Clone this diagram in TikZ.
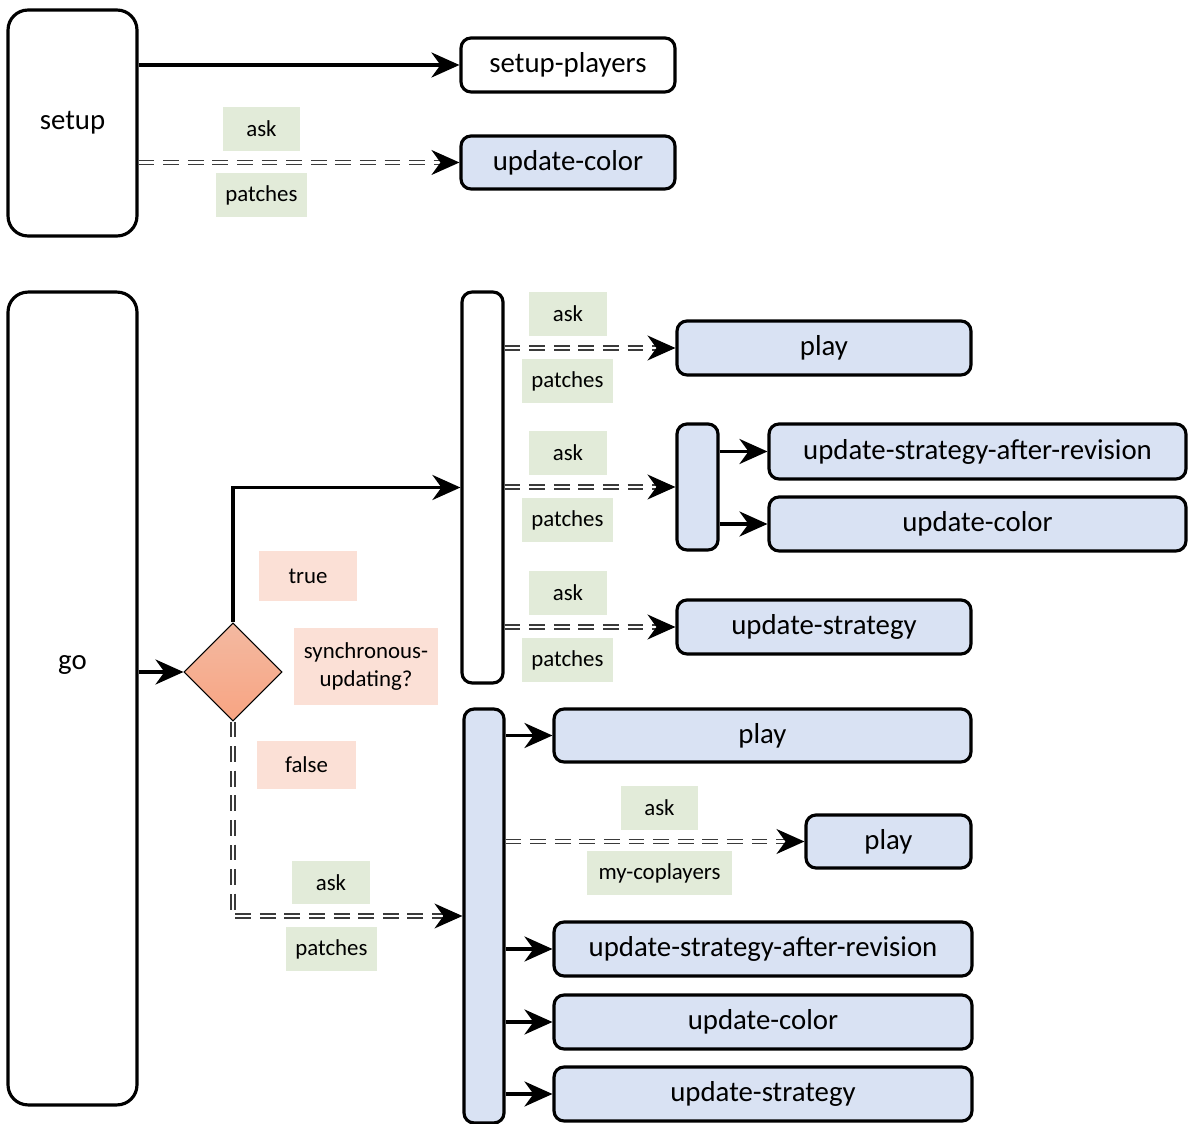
\documentclass[tikz,border=0pt]{standalone}
\usepackage{fontspec}
\setmainfont{Carlito}
\usetikzlibrary{arrows.meta,shapes.geometric}
\definecolor{bx}{HTML}{D9E2F3}
\definecolor{gt}{HTML}{E2EBD9}
\definecolor{pk}{HTML}{FBE0D6}
\definecolor{dtop}{HTML}{F3B9A1}
\definecolor{dbot}{HTML}{F8A482}
\definecolor{dl}{HTML}{3A3A3A}
\newcommand\boxfont{\fontsize{16.4}{19}\selectfont}
\newcommand\tagfont{\fontsize{13}{16}\selectfont}

\begin{document}
\begin{tikzpicture}[x=0.02cm,y=-0.02cm,
    big/.style={draw,line width=1.8pt,rounded corners=0.4cm,fill=white,minimum width=2.58cm,inner sep=0pt,font=\boxfont},
    box/.style={draw,line width=1.8pt,rounded corners=0.2cm,fill=bx,minimum height=1.08cm,inner sep=0pt,font=\boxfont},
    tag/.style={fill=gt,minimum height=0.88cm,inner sep=0pt,font=\tagfont},
    pinktag/.style={fill=pk,inner sep=0pt,font=\tagfont},
    dec/.style={diamond,draw,line width=0.6pt,top color=dtop,bottom color=dbot,minimum width=1.96cm,minimum height=1.96cm,inner sep=0pt},
    arr/.style={line width=2pt,-{Stealth[length=0.56cm,width=0.5cm,inset=0.18cm]}},
    dbl/.style={draw=dl,line width=0.85pt,double=white,double distance=1.4pt,dash pattern=on 9pt off 5pt,-{Stealth[length=0.56cm,width=0.5cm,inset=0.18cm,color=black,fill=black]}}]
  \useasboundingbox (0,0) rectangle (1194,1124);
  % setup
  \node[big,minimum height=4.52cm] (setup) at (72.5,123) {setup};
  \node[box,fill=white,minimum width=4.28cm] (players) at (568,65) {setup-players};
  \node[box,minimum width=4.28cm,minimum height=1.06cm] (ucol0) at (568,162.5) {update-color};
  \draw[arr] (setup.east |- players) -- (players);
  \draw[dbl] (setup.east |- ucol0) -- (ucol0);
  \node[tag,minimum width=1.54cm] (ask0) at (261.5,129) {ask};
  \node[tag,minimum width=1.82cm] (pat0) at (261.5,195.5) {patches};
  % go
  \node[big,minimum height=16.26cm,label={[font=\boxfont,yshift=0.67cm]center:go}] (go) at (72.5,698.5) {};
  \node[dec] (dec) at (233,672) {};
  \draw[arr] (go.east |- dec) -- (dec);
  \node[pinktag,minimum width=1.96cm,minimum height=1cm] (true) at (308,576) {true};
  \node[pinktag,minimum width=2.88cm,minimum height=1.54cm,align=center] (sync) at (366,666.5) {synchronous-\\updating?};
  \node[pinktag,minimum width=1.98cm,minimum height=0.96cm] (false) at (306.5,765) {false};
  \node[box,fill=white,minimum width=0.82cm,minimum height=7.82cm] (sbar) at (482.5,487.5) {};
  \node[box,minimum width=0.8cm,minimum height=8.28cm] (abar) at (484,916) {};
  \draw[arr] (dec.north) |- (sbar);
  \draw[dbl] (dec.south) |- (abar);
  \node[tag,minimum width=1.56cm] (ask4) at (331,882.5) {ask};
  \node[tag,minimum width=1.82cm] (pat4) at (331.5,949) {patches};
  % synchronous
  \node[box,minimum width=5.88cm] (play1) at (824,348) {play};
  \node[box,minimum width=0.82cm,minimum height=2.52cm] (mbar) at (697.5,487) {};
  \node[box,minimum width=8.34cm,minimum height=1.1cm] (usar1) at (977.5,451.5) {update-strategy-after-revision};
  \node[box,minimum width=8.34cm] (ucol1) at (977.5,524) {update-color};
  \node[box,minimum width=5.88cm] (ustr1) at (824,627) {update-strategy};
  \draw[dbl] (sbar.east |- play1) -- (play1);
  \draw[dbl] (sbar.east |- mbar) -- (mbar);
  \draw[dbl] (sbar.east |- ustr1) -- (ustr1);
  \draw[arr] (mbar.east |- usar1) -- (usar1);
  \draw[arr] (mbar.east |- ucol1) -- (ucol1);
  \foreach \i/\y in {1/348,2/487,3/627}{
    \node[tag,minimum width=1.56cm] (ask\i) at (568,\y-34) {ask};
    \node[tag,minimum width=1.82cm] (pat\i) at (567.5,\y+33) {patches};
  }
  % asynchronous
  \node[box,minimum width=8.34cm,minimum height=1.06cm] (play2) at (762.5,735.5) {play};
  \node[box,minimum width=3.3cm,minimum height=1.06cm] (play3) at (888.5,841.5) {play};
  \node[box,minimum width=8.36cm] (usar2) at (763,949) {update-strategy-after-revision};
  \node[box,minimum width=8.36cm] (ucol2) at (763,1022) {update-color};
  \node[box,minimum width=8.36cm] (ustr2) at (763,1094) {update-strategy};
  \foreach \n in {play2,usar2,ucol2,ustr2}
    \draw[arr] (abar.east |- \n) -- (\n);
  \draw[dbl] (abar.east |- play3) -- (play3);
  \node[tag,minimum width=1.54cm] (ask5) at (659.5,808) {ask};
  \node[tag,minimum width=2.9cm] (myc) at (659.5,873) {my-coplayers};
\end{tikzpicture}
\end{document}
